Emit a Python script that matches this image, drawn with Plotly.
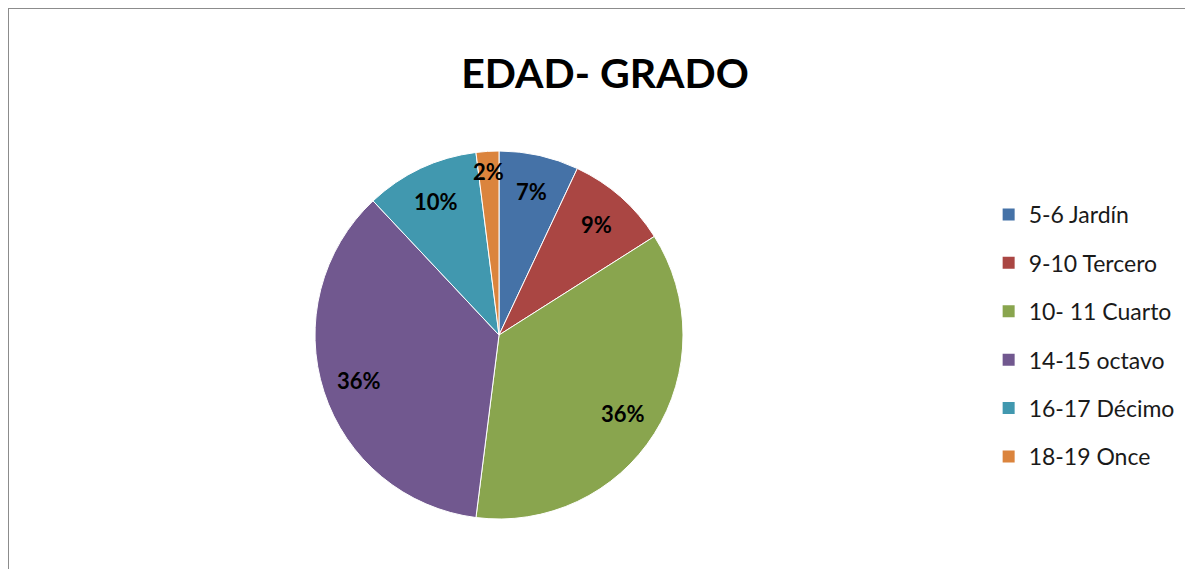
import math
import plotly.graph_objects as go

# data
grados = ["5-6 Jardín", "9-10 Tercero", "10- 11 Cuarto", "14-15 octavo", "16-17 Décimo", "18-19 Once"]
porcentajes = [7, 9, 36, 36, 10, 2]
colores = ["#4572A7", "#AA4643", "#89A54E", "#71588F", "#4198AF", "#DB843D"]

W, H = 1193, 569
# page has an 8px body margin, so positions are taken relative to the figure
cx, cy, r = 491, 327, 184

fig = go.Figure()

fig.add_trace(go.Pie(
    labels=grados,
    values=porcentajes,
    sort=False,
    direction="clockwise",
    rotation=0,
    marker=dict(colors=colores, line=dict(color="white", width=1)),
    textinfo="none",
    domain=dict(x=[(cx - r) / W, (cx + r) / W], y=[1 - (cy + r) / H, 1 - (cy - r) / H]),
    showlegend=False,
    hoverinfo="label+percent",
))

# data labels like excel: horizontal text at ~80% of the radius on the slice bisector,
# tiny slices get pushed a bit further out
total = sum(porcentajes)
acum = 0
for v in porcentajes:
    ang = 2 * math.pi * (acum + v / 2) / total
    acum += v
    k = 0.89 if v / total < 0.05 else 0.8
    lx = cx + k * r * math.sin(ang)
    ly = cy - k * r * math.cos(ang)
    fig.add_annotation(x=lx / W, y=1 - ly / H, xref="paper", yref="paper",
                       xanchor="center", yanchor="middle",
                       text="<b>%d%%</b>" % v, showarrow=False,
                       font=dict(family="Lato", size=22, color="black"))

# legend entries (one group each so the spacing can be opened up)
for i, (g, c) in enumerate(zip(grados, colores)):
    fig.add_trace(go.Scatter(
        x=[None], y=[None], mode="markers", name=g,
        marker=dict(symbol="square", size=12, color=c),
        legendgroup="g%d" % i, showlegend=True,
    ))

fig.update_layout(
    width=W, height=H,
    margin=dict(l=0, r=0, t=0, b=0),
    paper_bgcolor="white", plot_bgcolor="white",
    xaxis=dict(visible=False), yaxis=dict(visible=False),
    title=dict(text="<b>EDAD- GRADO</b>", x=(605 - 8) / W, xanchor="center", y=1 - 66 / H, yanchor="middle",
               font=dict(family="Lato", size=41, color="black")),
    legend=dict(x=0.822, xanchor="left", y=1 - 185 / H, yanchor="top",
                font=dict(family="Lato", size=23, color="#1a1a1a"),
                tracegroupgap=15.5, itemsizing="trace", bgcolor="rgba(0,0,0,0)"),
    shapes=[dict(type="rect", xref="paper", yref="paper", x0=0, y0=-0.05, x1=1.05, y1=1,
                 line=dict(color="#8c8c8c", width=2), fillcolor="rgba(0,0,0,0)")],
)

fig.write_html("out.html")
